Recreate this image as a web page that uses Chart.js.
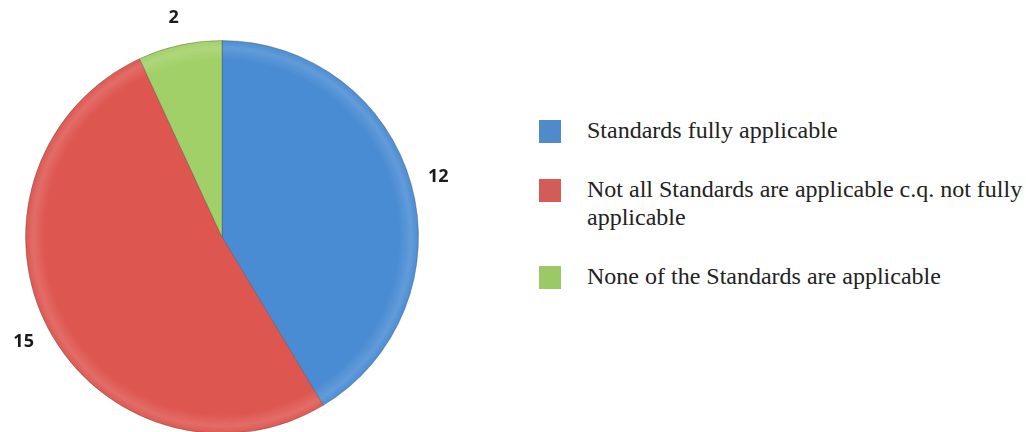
<!DOCTYPE html>
<html>
<head>
<meta charset="utf-8">
<script src="https://cdn.jsdelivr.net/npm/chart.js@4.4.1/dist/chart.umd.min.js"></script>
<style>
    html, body { margin: 0; padding: 0; background: #fff; overflow: hidden; }
    #wrap { position: relative; width: 1026px; height: 432px; }
    #pie-box { position: absolute; left: 0; top: 0; width: 500px; height: 440px; }
    #legend { position: absolute; left: 539px; top: 116px; width: 487px; font-family: "Liberation Serif", "Times New Roman", serif; font-size: 24px; color: #222; }
    .item { display: flex; align-items: flex-start; margin-bottom: 31px; line-height: 28px; }
    .box { width: 22px; height: 23px; flex: none; margin-top: 4px; margin-right: 26px; }
</style>
</head>
<body>
<div id="wrap">
    <div id="pie-box"><canvas id="pie-chart"></canvas></div>
    <div id="legend"></div>
</div>
<script>
const categories = [
    'Standards fully applicable',
    'Not all Standards are applicable c.q. not fully applicable',
    'None of the Standards are applicable'
];
const counts = [12, 15, 2];
const sliceColors = ['#4a8cd3', '#de5650', '#a2d068'];
const legendColors = ['#4f8bcb', '#d35b58', '#9bc966'];

// shade each slice a little darker towards the rim, like the original
function shaded(ctx) {
    const area = ctx.chart.chartArea;
    const base = sliceColors[ctx.dataIndex];
    if (!area) return base;
    const cx = (area.left + area.right) / 2;
    const cy = (area.top + area.bottom) / 2;
    const r = Math.min(area.right - area.left, area.bottom - area.top) / 2;
    const g = ctx.chart.ctx.createRadialGradient(cx, cy, 0, cx, cy, r);
    g.addColorStop(0, base);
    g.addColorStop(0.9, base);
    g.addColorStop(0.96, base + 'dd');
    g.addColorStop(1, base);
    return g;
}

// value labels outside the pie
const outsideLabels = {
    id: 'outsideLabels',
    afterDatasetsDraw(chart) {
        const ctx = chart.ctx;
        const meta = chart.getDatasetMeta(0);
        ctx.save();
        ctx.font = 'bold 18px "Open Sans", "Liberation Sans", sans-serif';
        ctx.fillStyle = '#1b1b1b';
        ctx.textAlign = 'center';
        ctx.textBaseline = 'middle';
        meta.data.forEach((arc, i) => {
            const mid = (arc.startAngle + arc.endAngle) / 2;
            const r = arc.outerRadius + 28;
            ctx.fillText(String(counts[i]), arc.x + Math.cos(mid) * r, arc.y + Math.sin(mid) * r);
        });
        ctx.restore();
    }
};

document.addEventListener('DOMContentLoaded', function() {
    const pieCtx = document.getElementById('pie-chart').getContext('2d');
    const pieChart = new Chart(pieCtx, {
        type: 'pie',
        data: {
            labels: categories,
            datasets: [{
                data: counts,
                backgroundColor: shaded,
                borderColor: 'rgba(70, 70, 70, 0.35)',
                borderWidth: 1
            }]
        },
        options: {
            responsive: true,
            maintainAspectRatio: false,
            animation: false,
            layout: { padding: { left: 25, right: 81, top: 40, bottom: 6 } },
            plugins: {
                legend: { display: false },
                tooltip: { enabled: false }
            }
        },
        plugins: [outsideLabels]
    });

    // html legend, so the long label can wrap
    const legend = document.getElementById('legend');
    pieChart.data.labels.forEach((label, i) => {
        const item = document.createElement('div');
        item.className = 'item';
        const box = document.createElement('div');
        box.className = 'box';
        box.style.background = legendColors[i];
        const text = document.createElement('div');
        text.textContent = label;
        item.appendChild(box);
        item.appendChild(text);
        legend.appendChild(item);
    });
});
</script>
</body>
</html>
